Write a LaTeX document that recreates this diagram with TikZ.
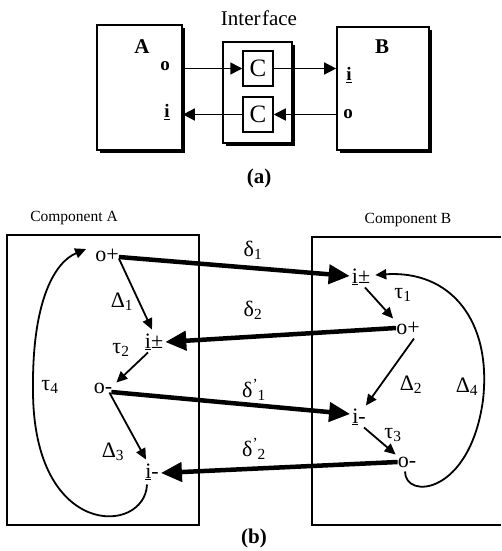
\documentclass[tikz,border=0pt]{standalone}
\usepackage{fontspec}
\setmainfont{Liberation Serif}
\usetikzlibrary{arrows.meta,shadows,calc}
\newcommand{\primesub}[1]{\textsuperscript{’}\kern-0.5pt\textsubscript{#1}}
\begin{document}
\begin{tikzpicture}[x=1pt,y=-1pt,
  txt/.style={inner sep=1pt, font=\fontsize{15.5}{16}\selectfont},
  glbl/.style={inner sep=1pt, font=\fontsize{22}{22}\selectfont},
  port/.style={inner sep=2pt, font=\fontsize{22}{22}\selectfont},
  bport/.style={inner sep=1pt, font=\fontsize{19}{19}\selectfont\bfseries},
  shbox/.style={draw, line width=1.7pt, fill=white, inner sep=0pt,
    drop shadow={shadow xshift=3pt, shadow yshift=-3pt, fill=black, opacity=1}},
  cbox/.style={draw, line width=1.5pt, fill=white, inner sep=0pt,
    minimum width=30pt, minimum height=35pt, font=\fontsize{25}{25}\selectfont},
  aarr/.style={line width=1.6pt, -{Triangle[length=12pt,width=12pt]}},
  thick arr/.style={line width=4.5pt, -{Triangle[length=21pt,width=19pt]}},
  thin arr/.style={line width=1.8pt, -{Triangle[length=11pt,width=10pt]}},
  frame/.style={line width=1.8pt}
]
\useasboundingbox (0,0) rectangle (502,551);

% ---------- (a) ----------
\node[shbox, minimum width=85pt, minimum height=125pt] (boxA) at (139.5,87.5) {};
\node[shbox, minimum width=69pt, minimum height=101pt] (intf) at (257.5,92.5) {};
\node[shbox, minimum width=92pt, minimum height=123pt] (boxB) at (383,88.5) {};
\node[cbox] (cu) at (258,68.5) {C};
\node[cbox] (cl) at (258,114.5) {C};

\node[inner sep=1pt, font=\fontsize{21}{21}\selectfont] (intlbl) at (259,18) {Inter\kern1.5pt face};
\node[bport, font=\fontsize{21}{21}\selectfont\bfseries] (la) at (142,47) {A};
\node[bport, font=\fontsize{21}{21}\selectfont\bfseries] (lb) at (382,47) {B};
\node[bport] (ao) at (165,66) {o};
\node[bport] (ai) at (167,112) {\underline{i}};
\node[bport] (bi) at (349,75) {\underline{i}};
\node[bport] (bo) at (348,114) {o};
\node[bport, font=\fontsize{21}{21}\selectfont\bfseries] (capa) at (259,178) {(a)};

\draw[aarr] (boxA.east |- cu.west) -- (cu.west);
\draw[aarr] (cu.east) -- (boxB.west |- cu.east);
\draw[aarr] (boxB.west |- cl.east) -- (cl.east);
\draw[aarr] (cl.west) -- (boxA.east |- cl.west);

% ---------- (b) ----------
\node[txt] (compA) at (74,218) {Component A};
\node[txt] (compB) at (408,220) {Component B};
\draw[frame] (7,235) rectangle (199,525);
\draw[frame] (501,237) -- (312,237) -- (312,525) -- (501,525);
\node[inner sep=1pt, font=\fontsize{21}{21}\selectfont\bfseries] (capb) at (254,538) {(b)};

% component A ports
\node[port] (aop) at (107,255) {o+};
\node[port] (aip) at (154,342) {\underline{i}±};
\node[port] (aom) at (103,388) {o-};
\node[port] (aim) at (152,472) {\underline{i}-};
% component B ports
\node[port] (bip) at (361,277) {\underline{i}±};
\node[port] (bop) at (408,328) {o+};
\node[port] (bim) at (359,417) {\underline{i}-};
\node[port] (bom) at (407,462) {o-};

% labels
\node[glbl] (d1) at (122,302) {Δ\textsubscript{1}};
\node[glbl] (t2) at (121,350) {τ\textsubscript{2}};
\node[glbl] (t4) at (50,387) {τ\textsubscript{4}};
\node[glbl] (d3) at (113,452) {Δ\textsubscript{3}};
\node[glbl] (dl1) at (253,250) {δ\textsubscript{1}};
\node[glbl] (dl2) at (253,310) {δ\textsubscript{2}};
\node[glbl] (dl1p) at (254,390) {δ\primesub{1}};
\node[glbl] (dl2p) at (254,449) {δ\primesub{2}};
\node[glbl] (t1) at (403,295) {τ\textsubscript{1}};
\node[glbl] (d2) at (411,385) {Δ\textsubscript{2}};
\node[glbl] (d4) at (467,387) {Δ\textsubscript{4}};
\node[glbl] (t3) at (393,435) {τ\textsubscript{3}};

% thick inter-component arrows
\draw[thick arr] ($(aop.east)+(-2,2)$) -- ($(bip.west)+(0,-1)$);
\draw[thick arr] ($(bop.west)+(2,0)$) -- (aip.east);
\draw[thick arr] ($(aom.east)+(-3,4)$) -- ($(bim.west)+(0,-3)$);
\draw[thick arr] ($(bom.west)+(2,0)$) -- ($(aim.east)+(0,1)$);

% thin arrows inside A
\draw[thin arr] ($(aop.south east)+(-2,-5)$) -- ($(aip.north)+(-2,-2)$);
\draw[thin arr] ($(aip.south)+(-6,0)$) -- ($(aom.north east)+(2,2)$);
\draw[thin arr] ($(aom.south east)+(-5,-3)$) -- ($(aim.north)+(-6,-2)$);
\draw[thin arr] ($(aim.south)+(-5,2)$) .. controls (145,535) and (33,540) .. (33,390)
  .. controls (32,300) and (55,262) .. ($(aop.west)+(-7,-6)$);

% thin arrows inside B
\draw[thin arr] ($(bip.south)+(4,0)$) -- ($(bop.north west)+(-1,-1)$);
\draw[thin arr] ($(bop.south)+(6,2)$) -- ($(bim.north east)+(-2,-1)$);
\draw[thin arr] ($(bim.south)+(5,0)$) -- ($(bom.north west)+(0,0)$);
\draw[thin arr] ($(bom.south)+(-2,2)$) .. controls (405,500) and (470,495) .. (483,400)
  .. controls (492,320) and (450,270) .. ($(bip.east)+(3,-2)$);
\end{tikzpicture}
\end{document}
